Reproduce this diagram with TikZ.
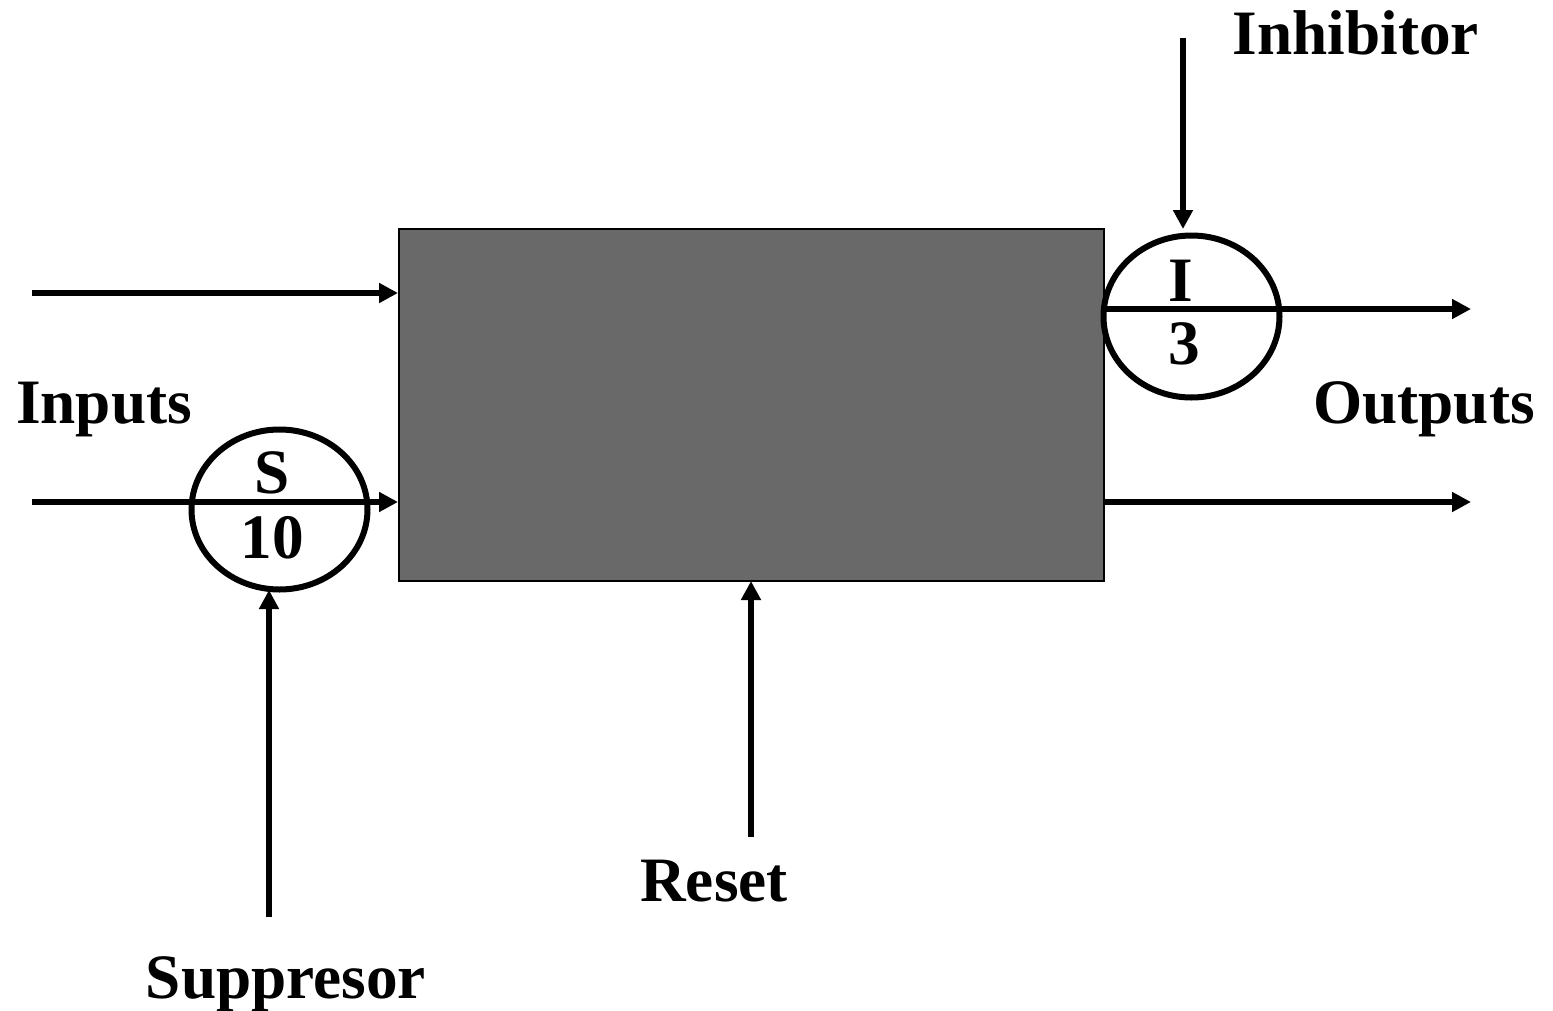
\documentclass[tikz,border=0pt]{standalone}
\usepackage{fontspec}
\setmainfont{Liberation Serif}
\usetikzlibrary{arrows.meta}
\begin{document}
\begin{tikzpicture}[x=0.02cm,y=-0.02cm,
  conn/.style={line width=5.5*0.02cm,-{Triangle[length=0.38cm,width=0.38cm]}},
  ringline/.style={line width=6*0.02cm},
  lbl/.style={font=\fontsize{36}{40}\selectfont\bfseries,anchor=base,inner sep=0pt}]
\useasboundingbox (0,0) rectangle (1553,1011);
% main box
\node[draw=black,line width=2*0.02cm,fill=black!59,minimum width=705*0.02cm,minimum height=352*0.02cm,inner sep=0pt] (box) at (751.5,405) {};
% ellipses
\draw[ringline] (279.5,509.5) ellipse [x radius=88, y radius=80];
\coordinate (sbot) at (269,590);
\draw[ringline] (1191.5,316.5) ellipse [x radius=88, y radius=81];
\coordinate (itop) at (1183,229);
% coordinates
\coordinate (in1) at (32,293);
\coordinate (in2) at (32,502);
\coordinate (box1) at (box.west |- in1);
\coordinate (box2) at (box.west |- in2);
\coordinate (out1s) at (1104,309);
\coordinate (out1) at (1471,309);
\coordinate (out2s) at (box.east |- in2);
\coordinate (out2) at (1471,502);
\coordinate (supp) at (269,917);
\coordinate (resetS) at (751,837);
\coordinate (resetE) at (751,581);
\coordinate (inhS) at (1183,38);
% connectors
\draw[conn] (in1) -- (box1);
\draw[conn] (in2) -- (box2);
\draw[conn] (out1s) -- (out1);
\draw[conn] (out2s) -- (out2);
\draw[conn] (supp) -- (sbot);
\draw[conn] (resetS) -- (resetE);
\draw[conn] (inhS) -- (itop);
% labels
\node[lbl] (tinputs) at (104,423) {Inputs};
\node[lbl] (toutputs) at (1424,423) {Outputs};
\node[lbl] (tinh) at (1356,54) {Inhibitor};
\node[lbl] (treset) at (714,901) {Reset};
\node[lbl] (tsupp) at (286,998) {Suppresor};
\node[lbl] (ts) at (272,493) {S};
\node[lbl] (t10) at (272,558) {10};
\node[lbl] (ti) at (1181,301) {I};
\node[lbl] (t3) at (1184,364) {3};
\end{tikzpicture}
\end{document}
